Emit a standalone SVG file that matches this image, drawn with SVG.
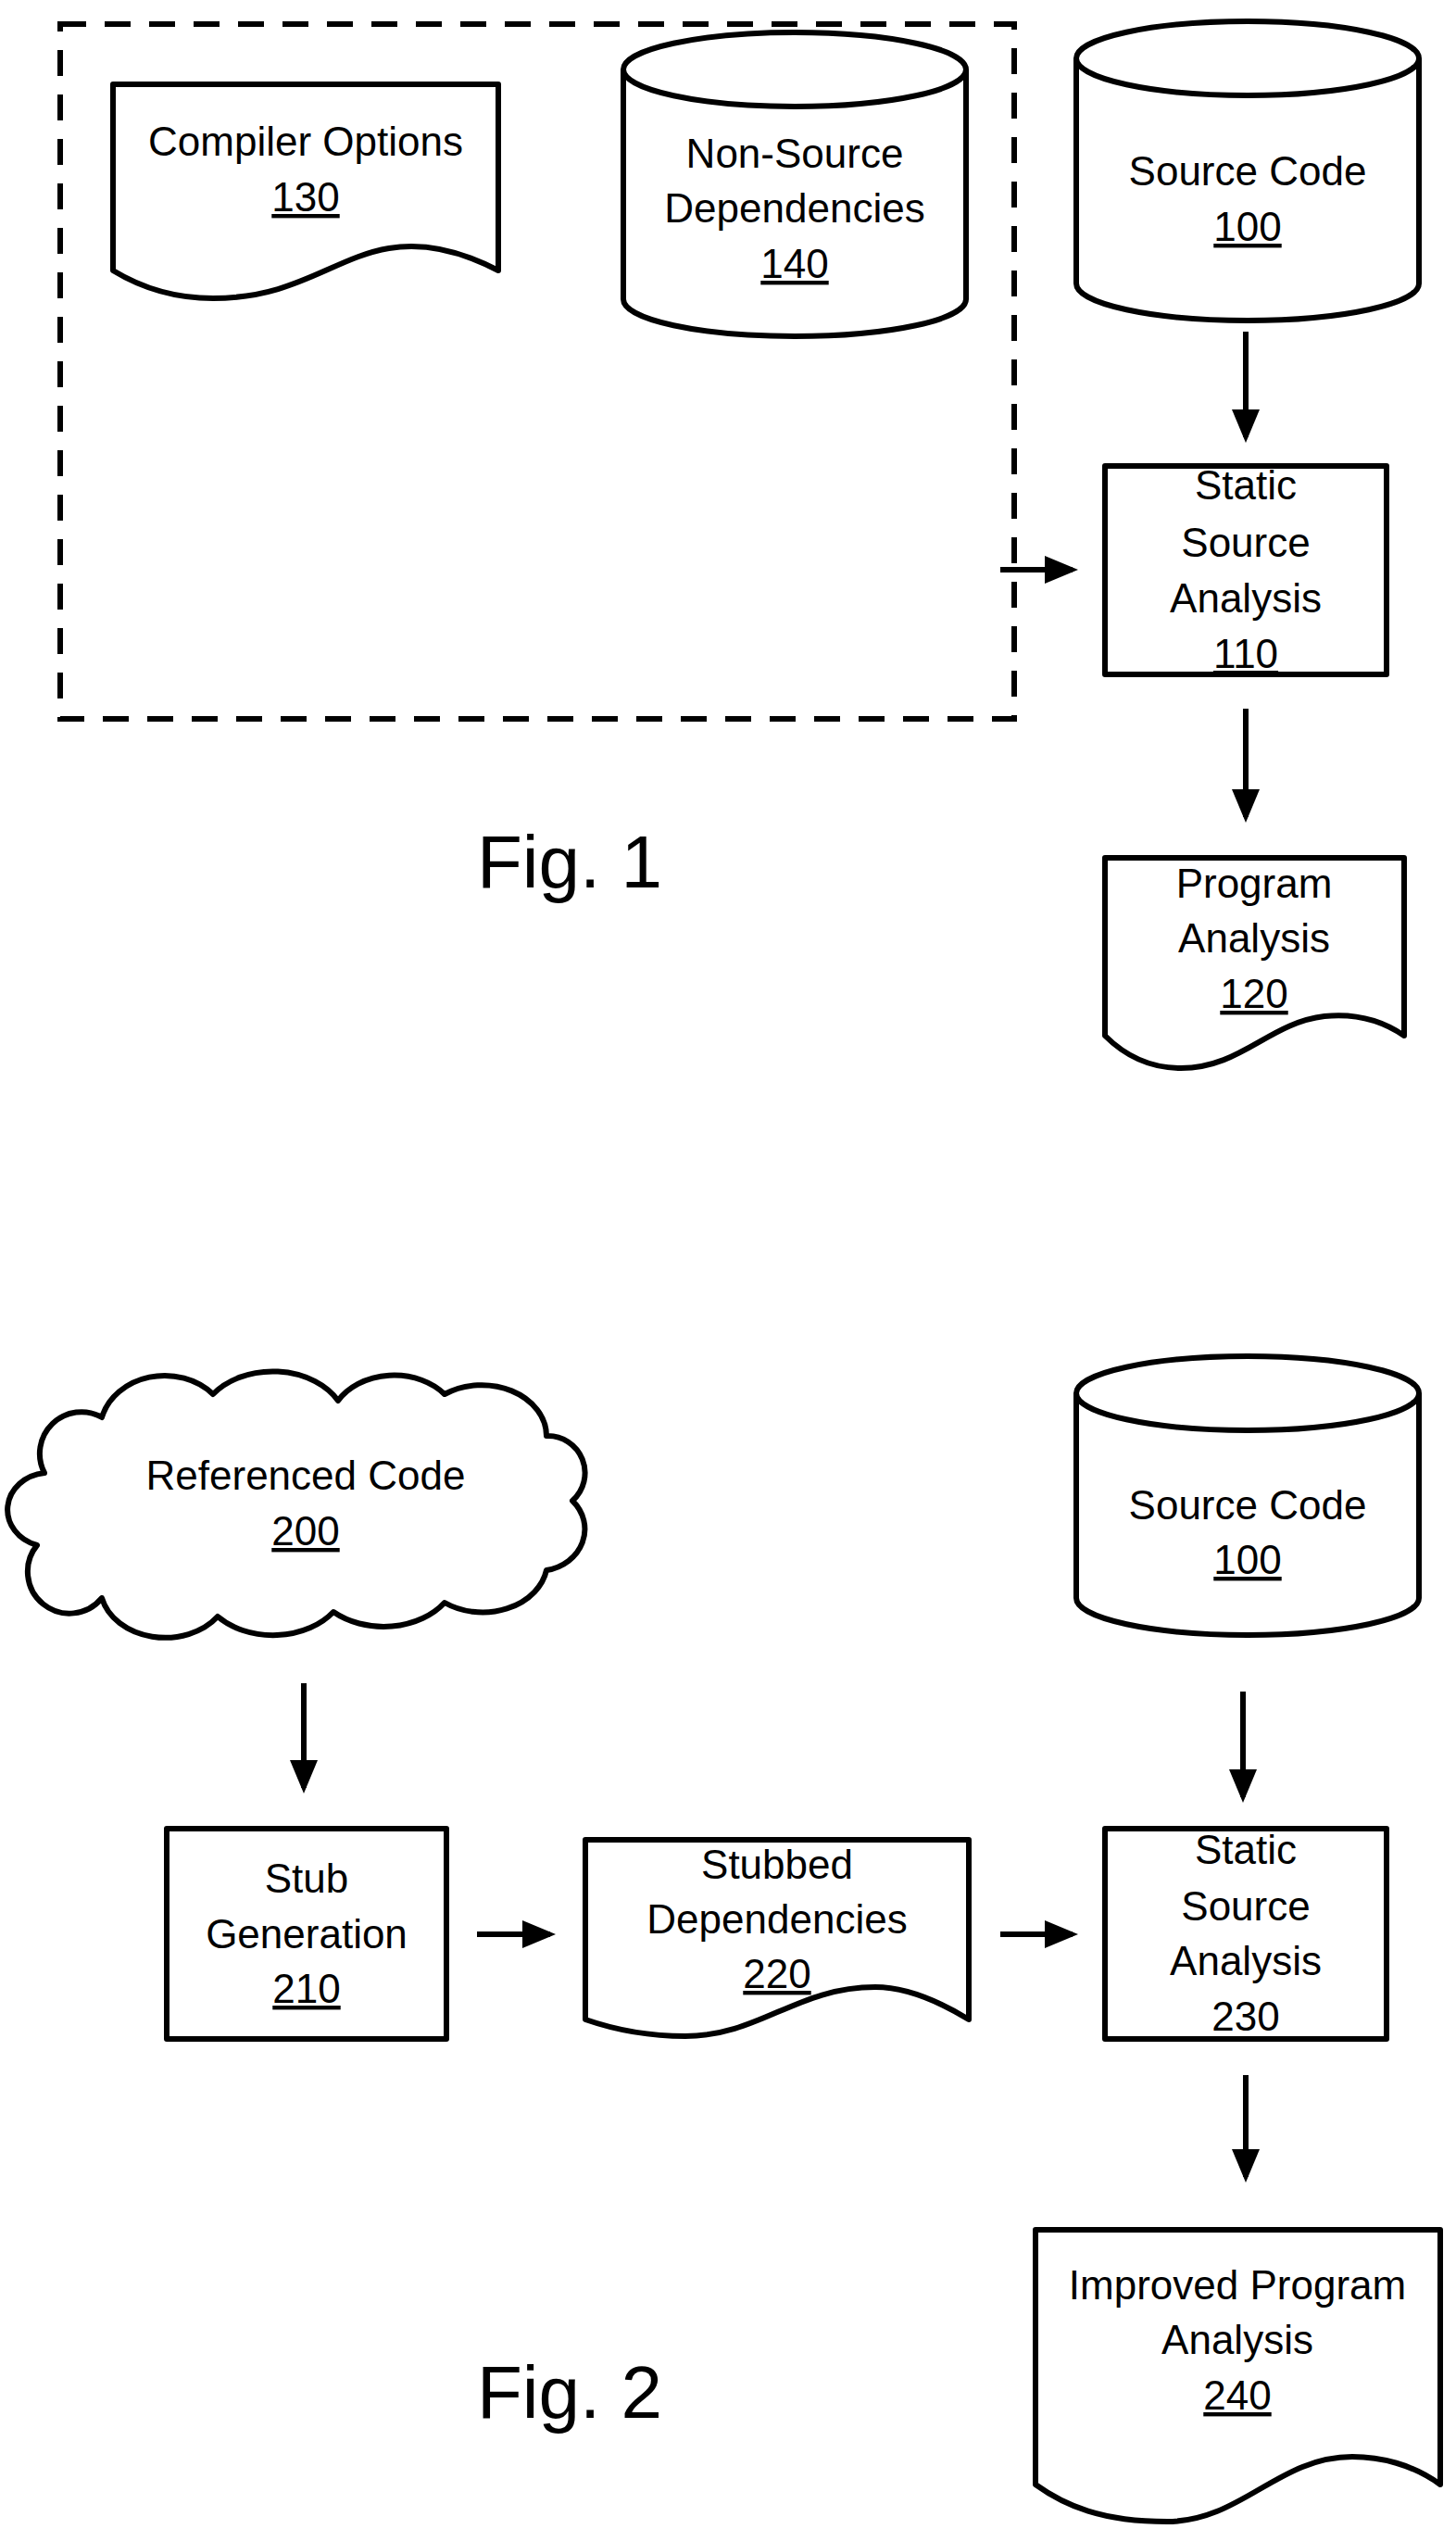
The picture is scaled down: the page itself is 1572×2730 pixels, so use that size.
<svg xmlns="http://www.w3.org/2000/svg" width="1572" height="2730" viewBox="0 0 1572 2730">
<style>
.s{fill:#fff;stroke:#000;stroke-width:6;stroke-linejoin:round}
.t{font-family:"Liberation Sans",Arial,sans-serif;font-size:44px;text-anchor:middle;fill:#000}
.u{text-decoration:underline}
.f{font-family:"Liberation Sans",Arial,sans-serif;font-size:80px;text-anchor:middle}
.c{stroke:#000;stroke-width:6;fill:none}
</style>
<defs><marker id="a" markerWidth="6" markerHeight="5" refX="5" refY="2.5" orient="auto" markerUnits="strokeWidth"><path d="M0,0 L6,2.5 L0,5z" fill="#000"/></marker></defs>
<rect x="65" y="26" width="1030" height="750" fill="none" stroke="#000" stroke-width="6" stroke-dasharray="28,20"/>
<g id="n130"><path class="s" d="M122,91 H538 V292 C496,270 455,262 420,268 C360,278 320,322 230,322 C180,322 145,306 122,292 Z"/><text class="t" x="330" y="168">Compiler Options</text><text class="t u" x="330" y="228">130</text></g>
<g id="n140"><path class="s" d="M673,75 A185,40 0 0 1 1043,75 V323 A185,40 0 0 1 673,323 Z"/><path class="s" fill="none" d="M673,75 A185,40 0 0 0 1043,75"/><text class="t" x="858" y="181">Non-Source</text><text class="t" x="858" y="240">Dependencies</text><text class="t u" x="858" y="300">140</text></g>
<g id="n100a"><path class="s" d="M1162,63 A185,40 0 0 1 1532,63 V306 A185,40 0 0 1 1162,306 Z"/><path class="s" fill="none" d="M1162,63 A185,40 0 0 0 1532,63"/><text class="t" x="1347" y="200">Source Code</text><text class="t u" x="1347" y="260">100</text></g>
<g id="n110"><rect class="s" x="1193" y="503" width="304" height="225"/><text class="t" x="1345" y="539">Static</text><text class="t" x="1345" y="601">Source</text><text class="t" x="1345" y="661">Analysis</text><text class="t u" x="1345" y="721">110</text></g>
<g id="n120"><path class="s" d="M1193,926 H1516 V1118 C1490,1100 1460,1094 1430,1097 C1370,1104 1340,1153 1275,1153 C1235,1153 1210,1135 1193,1118 Z"/><text class="t" x="1354" y="969">Program</text><text class="t" x="1354" y="1028">Analysis</text><text class="t u" x="1354" y="1088">120</text></g>
<text class="f" x="615" y="958">Fig. 1</text>
<g id="n200"><path class="s" d="M48,1590 A45,45 0 0 1 110,1530 A70,60 0 0 1 230,1505 A80,60 0 0 1 365,1512 A70,55 0 0 1 480,1505 A70,55 0 0 1 590,1550 A40,40 0 0 1 618,1620 A50,45 0 0 1 590,1695 A70,55 0 0 1 480,1730 A80,60 0 0 1 360,1740 A80,60 0 0 1 235,1745 A70,55 0 0 1 110,1725 A45,45 0 0 1 40,1668 A45,40 0 0 1 48,1590 Z"/><text class="t" x="330" y="1608">Referenced Code</text><text class="t u" x="330" y="1668">200</text></g>
<g id="n210"><rect class="s" x="180" y="1974" width="302" height="227"/><text class="t" x="331" y="2043">Stub</text><text class="t" x="331" y="2103">Generation</text><text class="t u" x="331" y="2162">210</text></g>
<g id="n220"><path class="s" d="M632,1986 H1046 V2180 C1010,2158 975,2145 945,2145 C860,2145 820,2198 740,2198 C690,2198 655,2188 632,2180 Z"/><text class="t" x="839" y="2028">Stubbed</text><text class="t" x="839" y="2087">Dependencies</text><text class="t u" x="839" y="2146">220</text></g>
<g id="n100b"><path class="s" d="M1162,1504 A185,40 0 0 1 1532,1504 V1725 A185,40 0 0 1 1162,1725 Z"/><path class="s" fill="none" d="M1162,1504 A185,40 0 0 0 1532,1504"/><text class="t" x="1347" y="1640">Source Code</text><text class="t u" x="1347" y="1699">100</text></g>
<g id="n230"><rect class="s" x="1193" y="1974" width="304" height="227"/><text class="t" x="1345" y="2012">Static</text><text class="t" x="1345" y="2073">Source</text><text class="t" x="1345" y="2132">Analysis</text><text class="t" x="1345" y="2192">230</text></g>
<g id="n240"><path class="s" d="M1118,2407 H1555 V2682 C1525,2660 1490,2652 1460,2652 C1380,2652 1340,2722 1260,2722 C1190,2722 1150,2705 1118,2682 Z"/><text class="t" x="1336" y="2482">Improved Program</text><text class="t" x="1336" y="2541">Analysis</text><text class="t u" x="1336" y="2601">240</text></g>
<text class="f" x="615" y="2610">Fig. 2</text>
<g id="connectors">
<line class="c" x1="1345" y1="358" x2="1345" y2="472" marker-end="url(#a)"/>
<line class="c" x1="1080" y1="615" x2="1158" y2="615" marker-end="url(#a)"/>
<line class="c" x1="1345" y1="765" x2="1345" y2="882" marker-end="url(#a)"/>
<line class="c" x1="328" y1="1817" x2="328" y2="1930" marker-end="url(#a)"/>
<line class="c" x1="515" y1="2088" x2="594" y2="2088" marker-end="url(#a)"/>
<line class="c" x1="1080" y1="2088" x2="1158" y2="2088" marker-end="url(#a)"/>
<line class="c" x1="1342" y1="1826" x2="1342" y2="1940" marker-end="url(#a)"/>
<line class="c" x1="1345" y1="2240" x2="1345" y2="2350" marker-end="url(#a)"/>
</g>
</svg>
